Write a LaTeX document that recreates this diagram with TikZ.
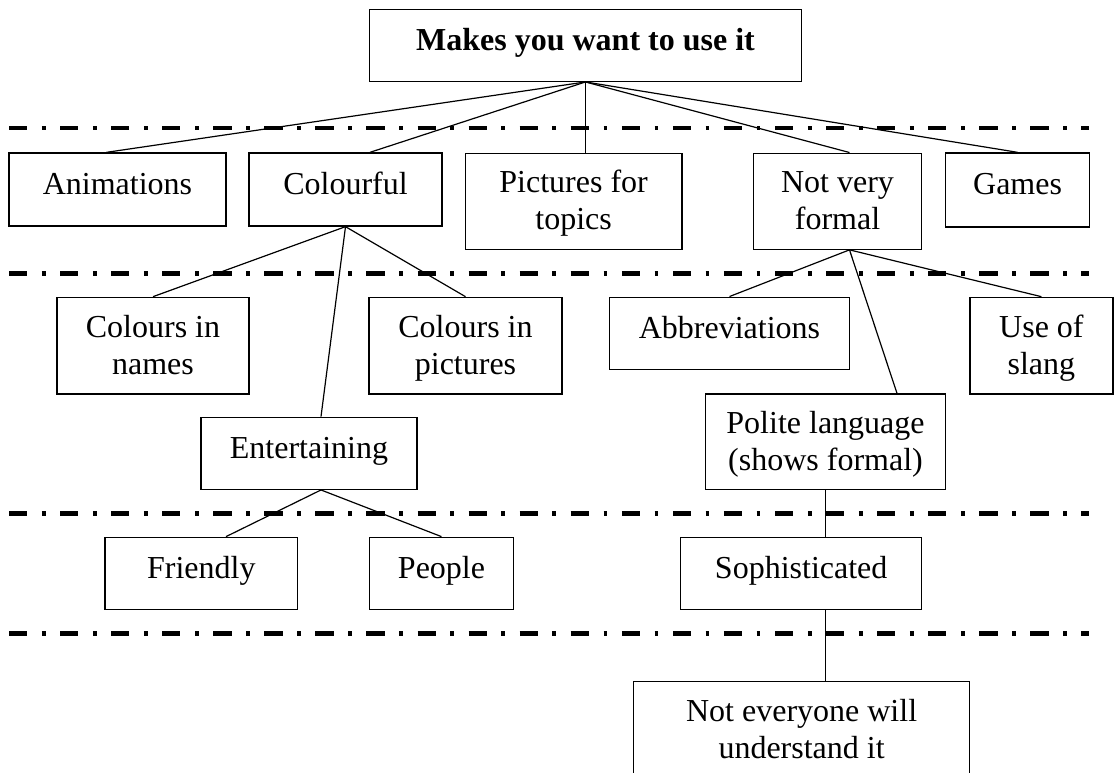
\documentclass[tikz,border=0pt]{standalone}
\usepackage{fontspec}
\setmainfont{Liberation Serif}
\usetikzlibrary{calc}
% one line of a two-line box, with fixed height and depth
\newcommand\tline[1]{\rule[-1.5pt]{0pt}{18pt}\smash{#1}}
\begin{document}
\begin{tikzpicture}[x=0.75pt,y=-0.75pt,
  box/.style={draw,line width=1pt,inner sep=0pt,align=center,
    font=\fontsize{24}{27.5}\selectfont},
  one/.style={box,text height=16.5pt,text depth=9pt},
  two/.style={box},
  sz/.style 2 args={minimum width=#1*0.75pt,minimum height=#2*0.75pt},
  link/.style={line width=0.9pt},
  divider/.style={line width=3.5pt,
    dash pattern=on 13.7pt off 10.9pt on 2.8pt off 10.9pt}]
\useasboundingbox (0,0) rectangle (1114,773);
\clip (0,0) rectangle (1114,773);

% level separators
\draw[divider] (9,128) -- (1089,128);
\draw[divider] (9,273.3) -- (1089,273.3);
\draw[divider] (9,513.3) -- (1089,513.3);
\draw[divider] (9,633.3) -- (1089,633.3);

% boxes
\node[one,sz={432}{72}] (top) at (585.5,45.3) {\bfseries Makes you want to use it};
\node[one,sz={217}{73}] (anim) at (117.5,189.5) {Animations};
\node[one,sz={193}{73}] (colour) at (345.5,189.5) {Colourful};
\node[two,sz={216.7}{96}] (pics) at (573.6,201.2) {\tline{Pictures for}\\\tline{topics}};
\node[two,sz={168.4}{96}] (nvf) at (837.5,201.2) {\tline{Not very}\\\tline{formal}};
\node[one,sz={144}{74}] (games) at (1017.6,190) {Games};
\node[two,sz={192}{96.7}] (cnames) at (153,345.7) {\tline{Colours in}\\\tline{names}};
\node[two,sz={193}{96.7}] (cpics) at (465.5,345.7) {\tline{Colours in}\\\tline{pictures}};
\node[one,sz={240}{72}] (abbr) at (729.5,333.2) {Abbreviations};
\node[two,sz={143}{96.7}] (slang) at (1041.4,345.7) {\tline{Use of}\\\tline{slang}};
\node[one,sz={216}{72}] (ent) at (309,453.3) {Entertaining};
\node[two,sz={240.3}{95.3}] (polite) at (825.5,441.7) {\tline{Polite language}\\\tline{(shows formal)}};
\node[one,sz={192.7}{72}] (friendly) at (201.3,573.3) {Friendly};
\node[one,sz={144.3}{72}] (people) at (441.5,573.3) {People};
\node[one,sz={241.2}{72}] (soph) at (801.2,573.3) {Sophisticated};
\node[two,sz={336.4}{97}] (nev) at (801.6,730.2) {\tline{Not everyone will}\\\tline{understand it}};

% connectors from the top box
\draw[link] (top.south) -- ($(anim.north)+(-11,0)$);
\draw[link] (top.south) -- ($(colour.north)+(24.5,0)$);
\draw[link] (top.south) -- (top.south |- pics.north);
\draw[link] (top.south) -- ($(nvf.north)+(12,0)$);
\draw[link] (top.south) -- (games.north);

% Colourful branch
\draw[link] (colour.south) -- (cnames.north);
\draw[link] (colour.south) -- (cpics.north);
\draw[link] (colour.south) -- ($(ent.north)+(12,0)$);

% Not very formal branch
\coordinate (nvfb) at ($(nvf.south)+(12,0)$);
\draw[link] (nvfb) -- (abbr.north);
\draw[link] (nvfb) -- (slang.north);
\draw[link] (nvfb) -- ($(polite.north)+(71.5,0)$);

% Entertaining branch
\coordinate (entb) at ($(ent.south)+(12,0)$);
\draw[link] (entb) -- ($(friendly.north)+(24.7,0)$);
\draw[link] (entb) -- (people.north);

% Polite language chain
\draw[link] (polite.south) -- (polite.south |- soph.north);
\draw[link] (polite.south |- soph.south) -- (polite.south |- nev.north);
\end{tikzpicture}
\end{document}
